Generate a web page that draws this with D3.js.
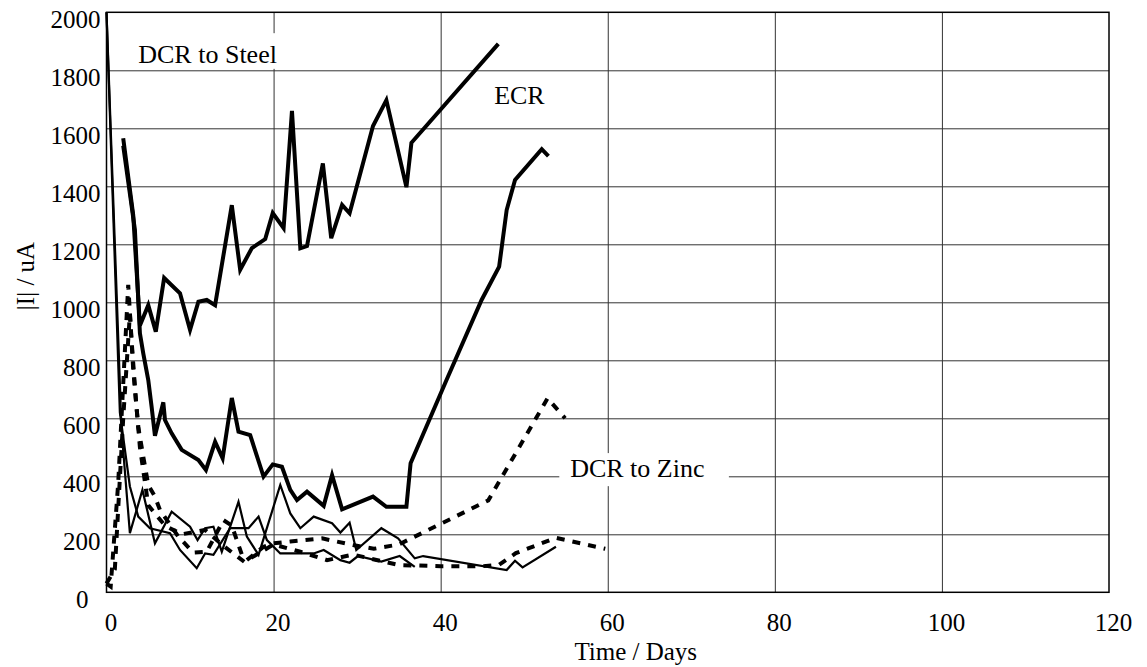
<!DOCTYPE html>
<html>
<head>
<meta charset="utf-8">
<script src="https://cdn.jsdelivr.net/npm/d3@7"></script>
<style>
  body { margin: 0; background: #fff; }
</style>
</head>
<body>
<svg width="1147" height="667"></svg>
<script>
const FONT = 'Liberation Serif, Times New Roman, serif';

// tick labels
const xTicks = [0, 20, 40, 60, 80, 100, 120];
const yTicks = [0, 200, 400, 600, 800, 1000, 1200, 1400, 1600, 1800, 2000];

// ECR (thick solid)
const ecrA = [[2,1566],[3.2,1300],[4.0,920],[5,990],[5.9,899],[6.9,1084],[8.8,1031],[10,905],[11,1002],[12,1008],[13,990],[15,1335],[16,1112],[17.4,1187],[19,1218],[19.9,1308],[21.2,1256],[22.2,1660],[23.2,1186],[24,1194],[25.9,1479],[26.9,1221],[28.2,1336],[29.1,1307],[31.9,1608],[33.5,1697],[35.9,1397],[36.5,1550],[46.9,1891]];
const ecrB = [[2,1540],[3.4,1250],[4.0,893],[4.4,824],[5.0,732],[5.4,640],[5.8,540],[6.8,655],[7.0,594],[7.8,548],[9.0,491],[11.0,456],[11.9,422],[13.0,519],[13.9,462],[15.0,670],[15.8,554],[17.2,542],[18.8,399],[19.9,441],[21.0,433],[22.0,353],[22.8,318],[24.0,347],[26.0,298],[27.0,404],[28.2,286],[31.9,330],[33.5,295],[35.9,295],[36.4,445],[40.7,732],[44.9,1008],[47.0,1123],[47.9,1318],[48.9,1422],[52.1,1528],[52.9,1504]];

// DCR to Steel (thin solid)
const steelA = [[0,2000],[1.8,560],[2.8,204],[4.3,353],[5.8,169],[7.8,278],[10,226],[10.9,180],[11.8,221],[12.8,226],[13.8,140],[15.8,312],[16.8,192],[18.2,129],[20.8,370],[22.0,272],[23.2,221],[24.8,261],[27,238],[28,206],[29.1,240],[29.9,146],[32.9,221],[34.9,186],[36.9,117],[37.9,125],[47.9,77],[48.9,109],[49.8,86],[53.8,157]];
const steelB = [[0,2000],[1.6,620],[2.8,365],[3.8,261],[5.2,221],[7.6,204],[8.8,146],[10.8,83],[11.8,134],[12.8,129],[14.8,221],[17,221],[18.2,261],[19.2,180],[20.8,134],[22.8,134],[24.8,134],[26,146],[28,111],[29.1,102],[30.1,125],[32.9,106],[35.1,125],[36.9,88]];

// DCR to Zinc (dashed)
const zincA = [[0,30],[1.0,80],[2.0,600],[2.8,960],[3.2,767],[3.8,571],[4.4,468],[5.0,370],[5.8,330],[6.4,284],[8.6,192],[10.4,137],[12,140],[14.0,249],[15,230],[16.2,130],[16.8,111],[18.8,157],[20,169],[22,175],[25.8,186],[29.5,163],[32,150],[35,165],[45.7,317],[52.8,669],[54.9,600]];
const zincB = [[0,30],[0.5,20],[1.4,376],[2.6,1060],[3.0,870],[3.5,670],[4.0,500],[5.0,300],[7,230],[9,200],[11.8,215],[14,160],[16.5,105],[20,165],[23.2,140],[26.4,111],[29.5,130],[35,94],[40,90],[45,90],[47,95],[49,135],[53.8,188],[59.7,150]];

const svg = d3.select('svg');
const margin = { top: 12.3, right: 38, bottom: 74.7, left: 106.5 };
const width = +svg.attr('width');
const height = +svg.attr('height');
const innerWidth = width - margin.left - margin.right;
const innerHeight = height - margin.top - margin.bottom;

const xScale = d3.scaleLinear().domain([0, 120]).range([0, innerWidth]);
const yScale = d3.scaleLinear().domain([0, 2000]).range([innerHeight, 0]);

const g = svg.append('g').attr('transform', `translate(${margin.left},${margin.top})`);

// grid
const xGrid = g.append('g').attr('transform', `translate(0,${innerHeight})`)
  .call(d3.axisBottom(xScale).tickValues(xTicks.slice(1, -1)).tickSize(-innerHeight).tickFormat(''));
xGrid.select('.domain').remove();
xGrid.selectAll('text').remove();
xGrid.selectAll('line').attr('stroke', '#333').attr('stroke-width', 1);

const yGrid = g.append('g')
  .call(d3.axisLeft(yScale).tickValues(yTicks.slice(1, -1)).tickSize(-innerWidth).tickFormat(''));
yGrid.select('.domain').remove();
yGrid.selectAll('text').remove();
yGrid.selectAll('line').attr('stroke', '#333').attr('stroke-width', 1);

// label boxes hiding the grid
const labels = [
  { text: 'DCR to Steel', x: 3.8, y: 1825, box: [2.8, 1928, 23.7, 1805] },
  { text: 'DCR to Zinc', x: 55.5, y: 397, box: [54.2, 480, 74.5, 366] },
  { text: 'ECR', x: 46.4, y: 1684, box: null }
];
labels.forEach(l => {
  if (l.box) {
    g.append('rect')
      .attr('x', xScale(l.box[0])).attr('y', yScale(l.box[1]))
      .attr('width', xScale(l.box[2]) - xScale(l.box[0]))
      .attr('height', yScale(l.box[3]) - yScale(l.box[1]))
      .attr('fill', '#fff');
  }
});

const line = d3.line().x(d => xScale(d[0])).y(d => yScale(d[1]));

const series = [
  { data: ecrA, w: 4, dash: null },
  { data: ecrB, w: 4, dash: null },
  { data: steelA, w: 2.2, dash: null },
  { data: steelB, w: 2.2, dash: null },
  { data: zincA, w: 4, dash: '8,8' },
  { data: zincB, w: 4, dash: '8,8' }
];
series.forEach(s => {
  g.append('path')
    .attr('d', line(s.data))
    .attr('fill', 'none')
    .attr('stroke', '#000')
    .attr('stroke-width', s.w)
    .attr('stroke-linejoin', 'miter')
    .attr('stroke-dasharray', s.dash);
});

labels.forEach(l => {
  g.append('text')
    .attr('x', xScale(l.x)).attr('y', yScale(l.y))
    .style('font-family', FONT)
    .style('font-size', '26px')
    .text(l.text);
});

// frame
g.append('rect')
  .attr('width', innerWidth).attr('height', innerHeight)
  .attr('fill', 'none').attr('stroke', '#000').attr('stroke-width', 1.5);

// axes
const xAxis = g.append('g').attr('transform', `translate(0,${innerHeight})`)
  .call(d3.axisBottom(xScale).tickValues(xTicks).tickFormat(d3.format('d')).tickSize(0).tickPadding(0));
xAxis.select('.domain').remove();
xAxis.selectAll('text')
  .attr('fill', '#000').attr('y', 39).attr('dy', null).attr('dx', 4)
  .style('font-family', FONT).style('font-size', '25px');

const yAxis = g.append('g')
  .call(d3.axisLeft(yScale).tickValues(yTicks).tickFormat(d3.format('d')).tickSize(0).tickPadding(0));
yAxis.select('.domain').remove();
yAxis.selectAll('text')
  .attr('fill', '#000').attr('y', 15.5).attr('dy', null)
  .attr('x', d => d === 0 ? -18 : -6)
  .style('font-family', FONT).style('font-size', '25px');

// titles
svg.append('text')
  .attr('x', margin.left + innerWidth / 2 + 28).attr('y', 660)
  .attr('text-anchor', 'middle')
  .style('font-family', FONT).style('font-size', '25px')
  .text('Time / Days');

svg.append('text')
  .attr('transform', 'translate(34,276) rotate(-90)')
  .attr('text-anchor', 'middle')
  .style('font-family', FONT).style('font-size', '25px')
  .text('|I| / uA');
</script>
</body>
</html>
